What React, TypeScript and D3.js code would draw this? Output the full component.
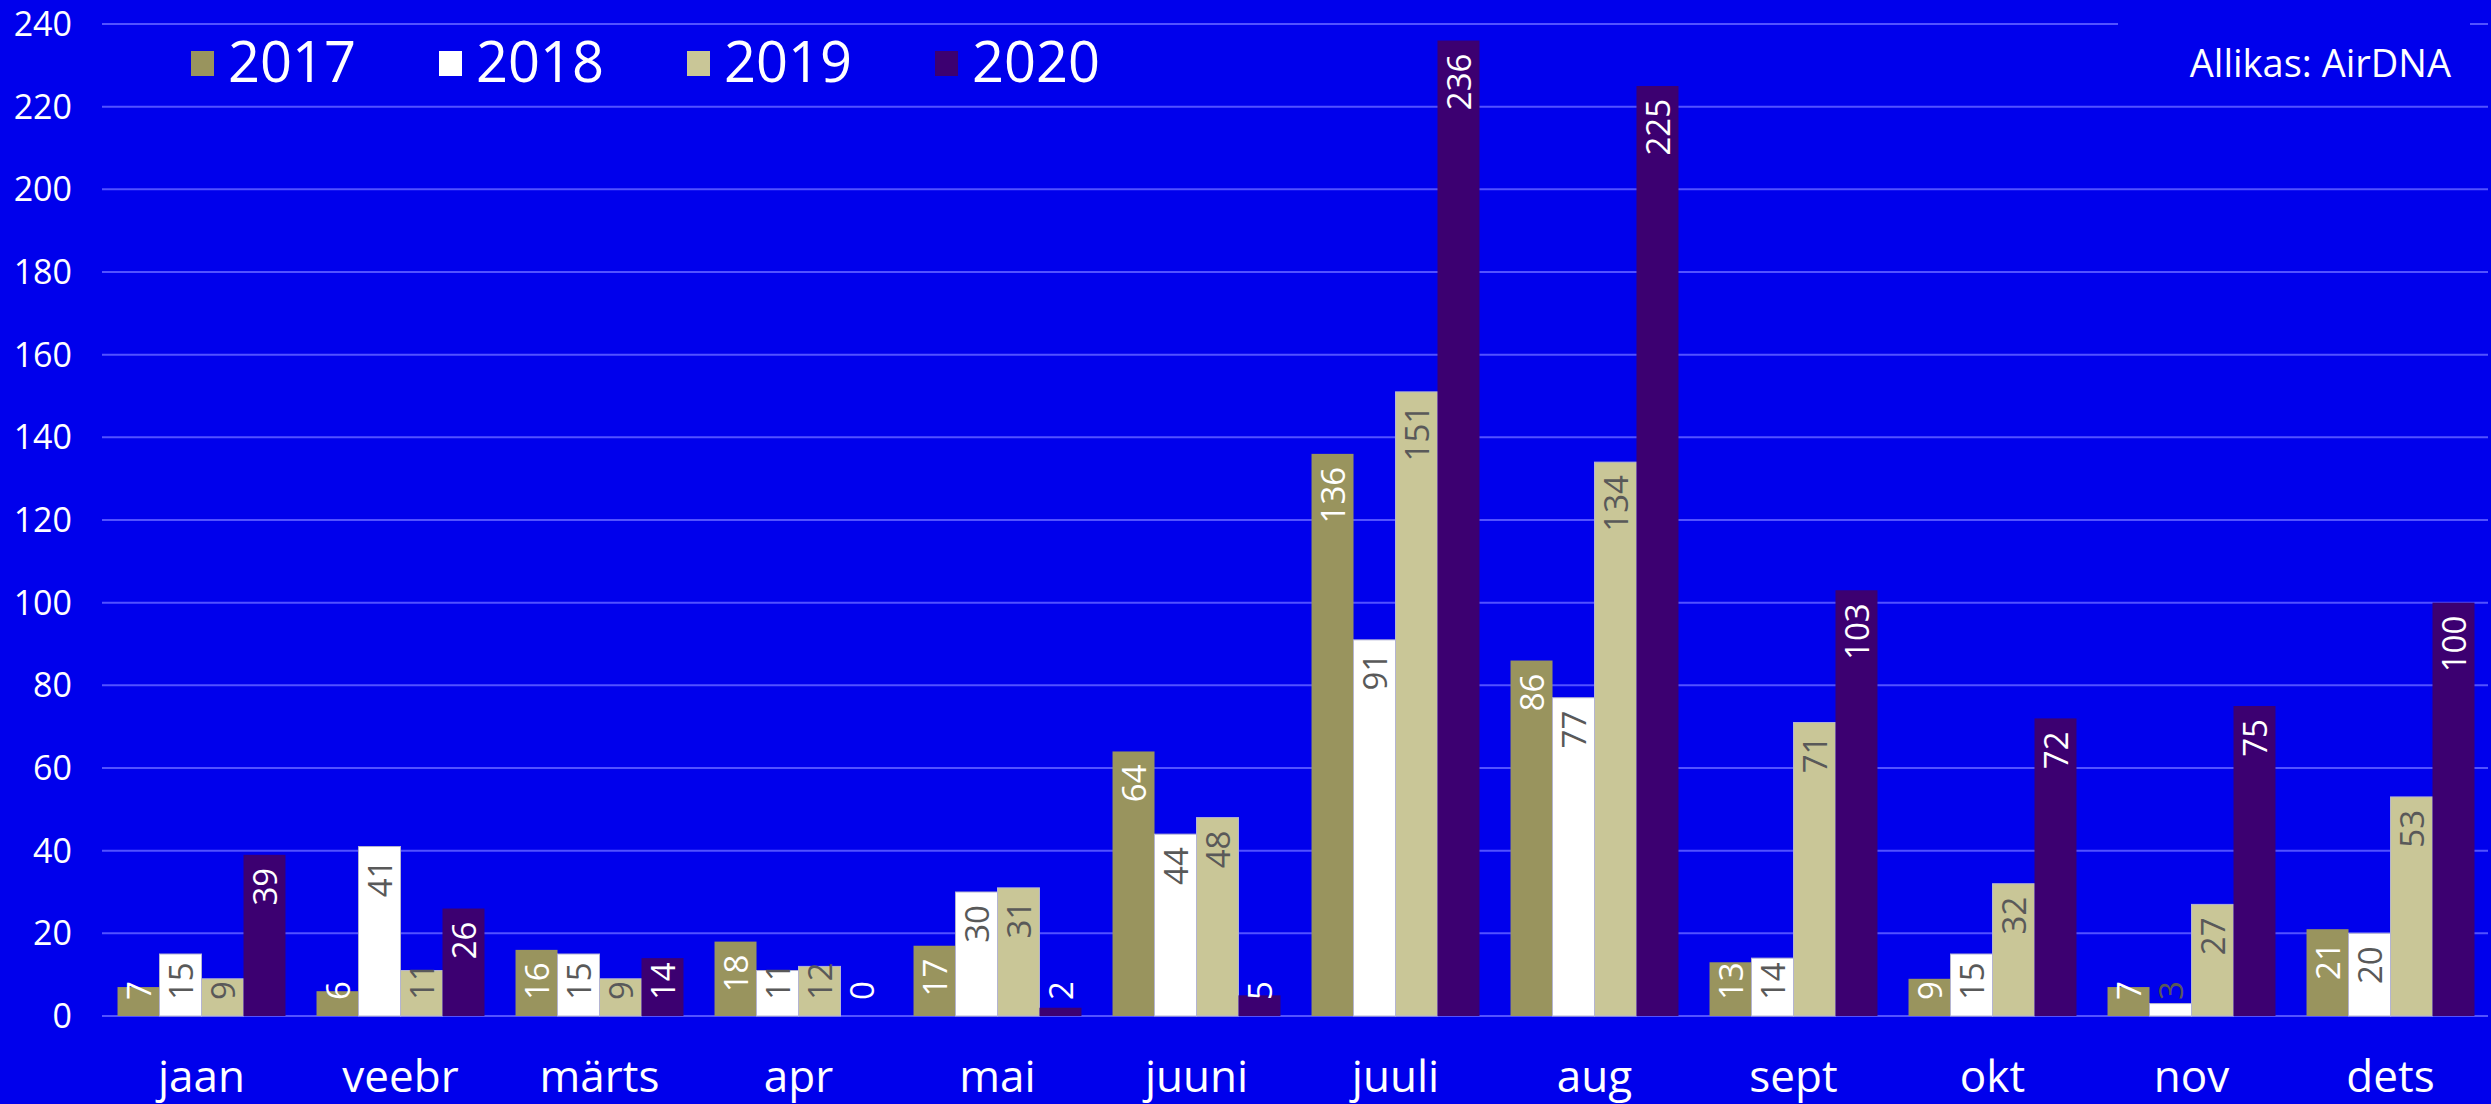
import React, { useRef, useEffect } from "react";
import * as d3 from "d3";

// Kuude nimed ja aastate väärtused (loetud pildilt)
const months = ["jaan", "veebr", "märts", "apr", "mai", "juuni", "juuli", "aug", "sept", "okt", "nov", "dets"];
const years = ["2017", "2018", "2019", "2020"];
const values2017 = [7, 6, 16, 18, 17, 64, 136, 86, 13, 9, 7, 21];
const values2018 = [15, 41, 15, 11, 30, 44, 91, 77, 14, 15, 3, 20];
const values2019 = [9, 11, 9, 12, 31, 48, 151, 134, 71, 32, 27, 53];
const values2020 = [39, 26, 14, 0, 2, 5, 236, 225, 103, 72, 75, 100];
const yTicks = [0, 20, 40, 60, 80, 100, 120, 140, 160, 180, 200, 220, 240];
const sourceText = "Allikas: AirDNA";

const W = 2491;
const H = 1104;
const BG = "#0000EC";
const FONT = "'Open Sans', sans-serif";

const App = () => {
  const svgRef = useRef<SVGSVGElement | null>(null);

  useEffect(() => {
    document.body.style.margin = "0";
    document.body.style.overflow = "hidden";
    if (!svgRef.current) return;

    const svg = d3.select(svgRef.current);
    svg.selectAll("*").remove();

    const series = [values2017, values2018, values2019, values2020];
    const colors = ["#99945E", "#FFFFFF", "#C9C697", "#3C0071"];
    const labelColors = ["#FFFFFF", "#595959", "#595959", "#FFFFFF"];

    const left = 102;
    const right = 2490;
    const x = d3.scaleBand<string>().domain(months).range([left, right]).paddingInner(0.156).paddingOuter(0.078);
    const xi = d3.scaleBand<string>().domain(years).range([0, x.bandwidth()]);
    const y = d3.scaleLinear().domain([0, 240]).range([1016, 24]);

    svg.append("rect").attr("width", W).attr("height", H).attr("fill", BG);

    // rasterjooned
    svg
      .append("g")
      .selectAll("line")
      .data(yTicks)
      .enter()
      .append("line")
      .attr("x1", left)
      .attr("x2", 2488)
      .attr("y1", (d) => y(d))
      .attr("y2", (d) => y(d))
      .attr("stroke", "#5252FF")
      .attr("stroke-width", 2);

    // y telje sildid
    svg
      .append("g")
      .selectAll("text")
      .data(yTicks)
      .enter()
      .append("text")
      .attr("x", 72)
      .attr("y", (d) => y(d))
      .attr("dy", "0.35em")
      .attr("text-anchor", "end")
      .attr("fill", "#FFFFFF")
      .style("font-family", FONT)
      .style("font-size", "34px")
      .text((d) => d);

    // tulbad
    const cells = d3.cross(d3.range(months.length), d3.range(years.length));
    svg
      .append("g")
      .selectAll("rect")
      .data(cells)
      .enter()
      .append("rect")
      .attr("x", ([m, s]) => (x(months[m]) as number) + (xi(years[s]) as number))
      .attr("y", ([m, s]) => y(series[s][m]))
      .attr("width", xi.bandwidth())
      .attr("height", ([m, s]) => y(0) - y(series[s][m]))
      .attr("fill", ([, s]) => colors[s])
      .attr("stroke", ([, s]) => (s === 1 || s === 2 ? "#B4B4D2" : "none"))
      .attr("stroke-width", 1);

    // väärtuste sildid
    const labels = svg
      .append("g")
      .selectAll("text")
      .data(cells)
      .enter()
      .append("text")
      .attr("text-anchor", "end")
      .attr("dominant-baseline", "central")
      .attr("fill", ([, s]) => labelColors[s])
      .style("font-family", FONT)
      .style("font-size", "33px")
      .text(([m, s]) => series[s][m]);

    labels.attr("transform", function ([m, s]) {
      const len = (this as SVGTextElement).getComputedTextLength();
      const cx = (x(months[m]) as number) + (xi(years[s]) as number) + xi.bandwidth() / 2;
      const top = Math.min(y(series[s][m]) + 13, y(0) - 16 - len);
      return `translate(${cx},${top}) rotate(-90)`;
    });

    // kuude sildid
    svg
      .append("g")
      .selectAll("text")
      .data(months)
      .enter()
      .append("text")
      .attr("x", (d) => (x(d) as number) + x.bandwidth() / 2)
      .attr("y", 1092)
      .attr("text-anchor", "middle")
      .attr("fill", "#FFFFFF")
      .style("font-family", FONT)
      .style("font-size", "44px")
      .text((d) => d);

    // legend
    const legend = svg.append("g");
    years.forEach((yr, i) => {
      const lx = 191 + i * 248;
      legend
        .append("rect")
        .attr("x", lx)
        .attr("y", 51)
        .attr("width", 23)
        .attr("height", 25)
        .attr("fill", colors[i]);
      legend
        .append("text")
        .attr("x", lx + 37)
        .attr("y", 82)
        .attr("fill", "#FFFFFF")
        .style("font-family", FONT)
        .style("font-size", "56px")
        .text(yr);
    });

    // allikas
    svg.append("rect").attr("x", 2118).attr("y", 0).attr("width", 352).attr("height", 95).attr("fill", BG);
    svg
      .append("text")
      .attr("x", 2451)
      .attr("y", 77)
      .attr("text-anchor", "end")
      .attr("fill", "#FFFFFF")
      .style("font-family", FONT)
      .style("font-size", "38px")
      .text(sourceText);

    return () => {
      svg.selectAll("*").remove();
    };
  }, []);

  return (
    <svg
      ref={svgRef}
      width={W}
      height={H}
      style={{ position: "absolute", left: 0, top: 0, display: "block" }}
    ></svg>
  );
};

export default App;
